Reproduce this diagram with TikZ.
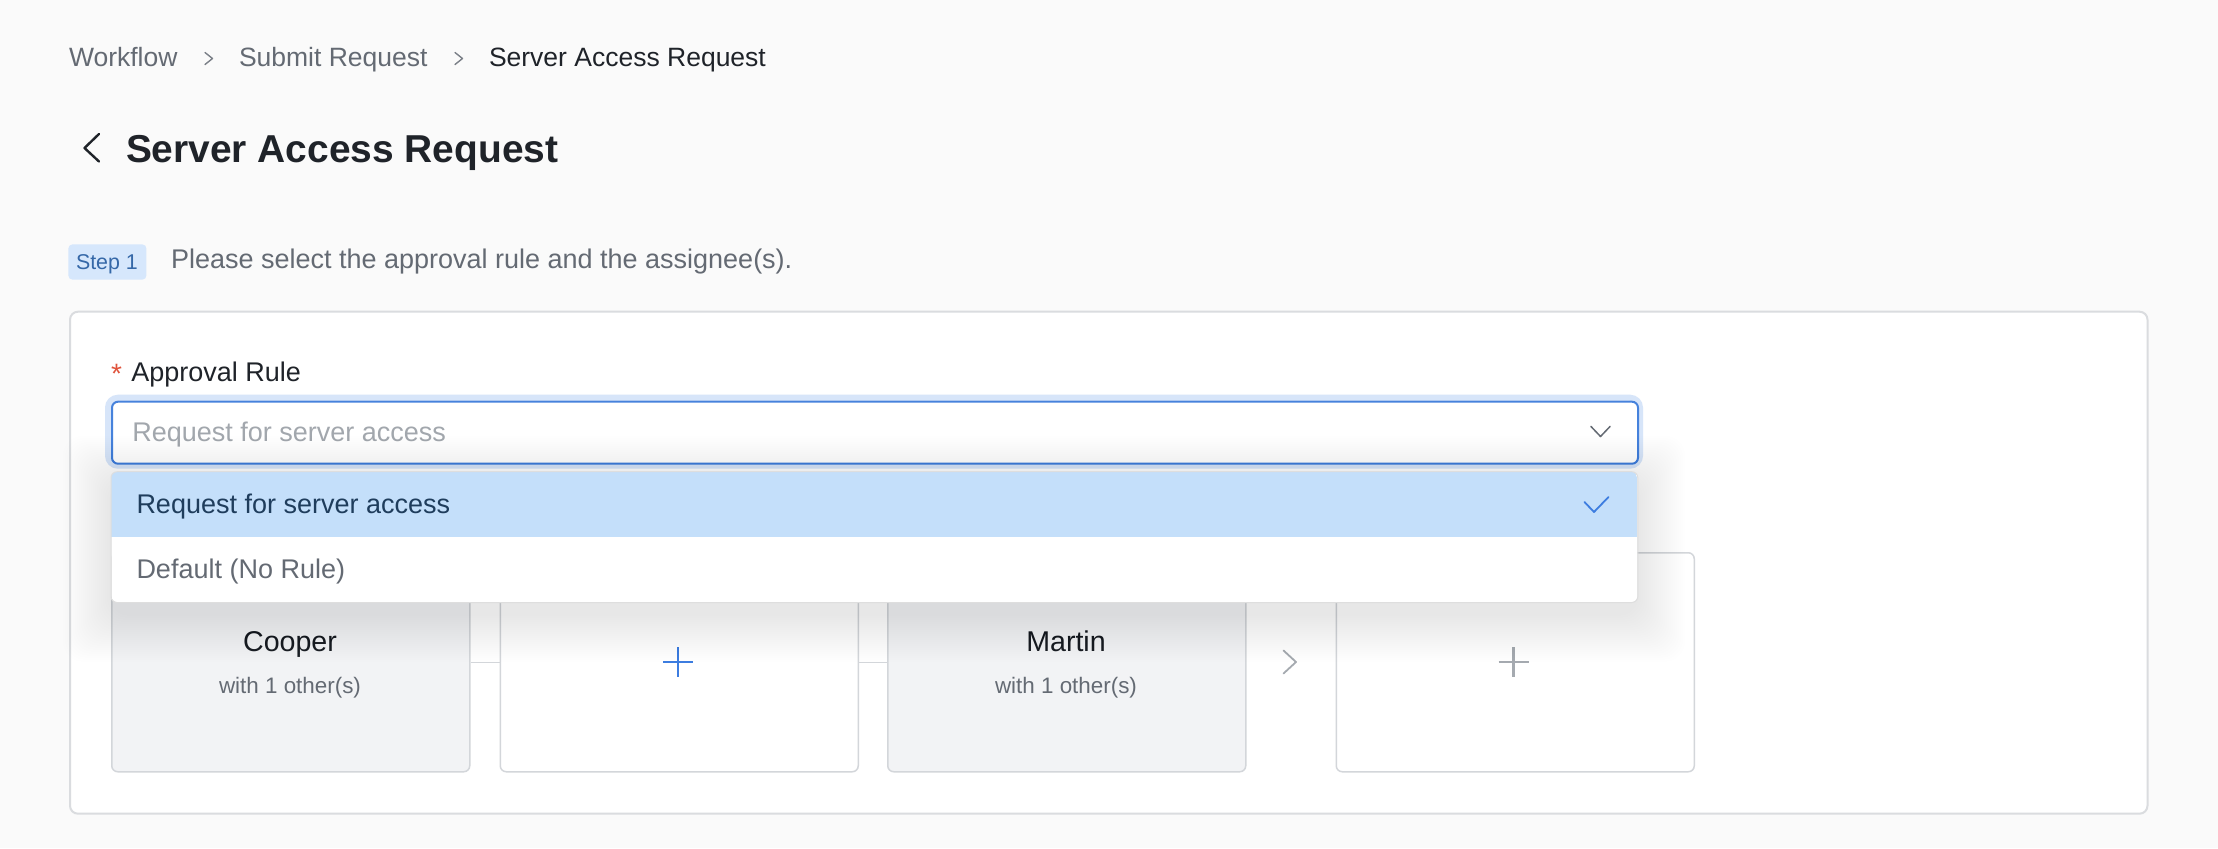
\documentclass[tikz,border=0pt]{standalone}
\usepackage{fontspec}
\setmainfont{Liberation Sans}
\definecolor{bgc}{HTML}{FAFAFA}
\definecolor{ink}{HTML}{1F2329}
\definecolor{gtext}{HTML}{646A73}
\definecolor{phc}{HTML}{A2A7AD}
\definecolor{bord}{HTML}{D3D6DA}
\definecolor{cardbord}{HTML}{DADCDF}
\definecolor{accent}{HTML}{3D7DE0}
\definecolor{selblue}{HTML}{4682DC}
\definecolor{hlc}{HTML}{C4DFFA}
\definecolor{badgec}{HTML}{D6E7FC}
\definecolor{badgetxt}{HTML}{3568A8}
\definecolor{glowc}{HTML}{D7E5F9}
\definecolor{boxfill}{HTML}{F2F3F5}
\definecolor{seltext}{HTML}{1F3D5C}
\definecolor{starc}{HTML}{E0533C}
\definecolor{iconc}{HTML}{A5AAB0}
\tikzset{
  txtw/.style={inner sep=0pt, outer sep=0pt, anchor=base west},
  txtc/.style={inner sep=0pt, outer sep=0pt, anchor=base},
  fbody/.style={font=\fontsize{13.5}{16}\selectfont},
  assbox/.style={draw=bord, line width=0.75pt, rounded corners=3pt, minimum width=179pt, minimum height=109.5pt, anchor=north west, inner sep=0pt},
  conn/.style={draw=bord, line width=0.75pt},
  icon/.style={line cap=round, line join=round},
}
\begin{document}
\begin{tikzpicture}[x=0.5pt,y=-0.5pt]
\useasboundingbox (0,0) rectangle (2218,848);
\fill[bgc] (0,0) rectangle (2218,848);

% breadcrumb
\node[txtw, font=\fontsize{13.25}{16}\selectfont, text=gtext] (bc1) at (69,66) {Workflow};
\draw[icon, gtext!85, line width=0.7pt] (205,52.5) -- (212.5,58.5) -- (205,64.5);
\node[txtw, font=\fontsize{13.25}{16}\selectfont, text=gtext] (bc2) at (239,66) {Submit Request};
\draw[icon, gtext!85, line width=0.7pt] (455,52.5) -- (462.5,58.5) -- (455,64.5);
\node[txtw, font=\fontsize{13.25}{16}\selectfont, text=ink] (bc3) at (489,66) {Server Access Request};

% title
\draw[icon, ink, line width=1.2pt] (99,134) -- (84.5,148) -- (99,161.5);
\node[txtw, font=\bfseries\fontsize{19.45}{23}\selectfont, text=ink] (title) at (126,162) {Server Access Request};

% step
\node[fill=badgec, rounded corners=2pt, minimum width=39pt, minimum height=17.6pt, anchor=north west, inner sep=0pt] (badge) at (68,244) {};
\node[txtw, font=\fontsize{10.7}{13}\selectfont, text=badgetxt] (steptxt) at (76,269) {Step 1};
\node[txtw, fbody, text=gtext] (instr) at (171,268) {Please select the approval rule and the assignee(s).};

% card
\node[draw=cardbord, line width=1pt, fill=white, rounded corners=4pt, anchor=north west, minimum width=1038.75pt, minimum height=251pt, inner sep=0pt] (card) at (69,310.7) {};

% approval rule
\node[txtw, font=\fontsize{14}{16}\selectfont, text=starc] (req) at (111,383) {*};
\node[txtw, fbody, text=ink] (label) at (131.4,381.7) {Approval Rule};

% assignee boxes
\node[assbox, fill=boxfill] (cooper) at (111,552) {};
\node[assbox, fill=white] (add1) at (499.5,552) {};
\node[assbox, fill=boxfill] (martin) at (887,552) {};
\node[assbox, fill=white] (add2) at (1335.5,552) {};
\draw[conn] (cooper.east) -- (add1.west);
\draw[conn] (add1.east) -- (martin.west);
\node[txtc, font=\fontsize{14.3}{17}\selectfont, text=ink] (n1) at (290,651.7) {Cooper};
\node[txtc, font=\fontsize{11.2}{13}\selectfont, text=gtext] (o1) at (290,693) {with 1 other(s)};
\node[txtc, font=\fontsize{14.3}{17}\selectfont, text=ink] (n2) at (1066,651.7) {Martin};
\node[txtc, font=\fontsize{11.2}{13}\selectfont, text=gtext] (o2) at (1066,693) {with 1 other(s)};
\draw[accent, line width=1.25pt] (678,647) -- (678,677) (663,662) -- (693,662);
\draw[iconc, line width=1.25pt] (1513.5,647) -- (1513.5,677) (1498.5,662) -- (1528.5,662);
\draw[icon, iconc, line width=0.9pt] (1283.5,650.5) -- (1296,662) -- (1283.5,673.5);

% select
\draw[glowc, line width=3pt, rounded corners=5pt] (108,397.7) rectangle (1640,465.7);
\node[draw=selblue, line width=1pt, fill=white, rounded corners=3pt, anchor=north west, minimum width=763pt, minimum height=31pt, inner sep=0pt] (select) at (111,400.7) {};
\node[txtw, fbody, text=phc] (ph) at (132.4,441.7) {Request for server access};
\draw[icon, gtext, line width=0.75pt] (1591,426.5) -- (1600.5,436.5) -- (1610,426.5);

% dropdown shadow
\foreach \i in {1,...,24} {
  \fill[black, opacity=0.0048, rounded corners=10pt] ({111-2*\i},{483.7-2*\i}) rectangle ({1637+2*\i},{613.7+2*\i});
}
% dropdown
\node[fill=white, rounded corners=3pt, anchor=north west, minimum width=763pt, minimum height=65pt, inner sep=0pt] (menu) at (111,471.7) {};
\begin{scope}
  \clip[rounded corners=3pt] (111,471.7) rectangle (1637,601.7);
  \fill[hlc] (111,471.7) rectangle (1637,536.7);
\end{scope}
\draw[black!13, line width=0.5pt, rounded corners=3pt] (menu.north west) rectangle (menu.south east);
\node[txtw, fbody, text=seltext] (opt1) at (136.5,513) {Request for server access};
\node[txtw, fbody, text=gtext] (opt2) at (136.5,578) {Default (No Rule)};
\draw[icon, accent, line width=0.9pt] (1584.5,502) -- (1594,512) -- (1608.5,497);
\end{tikzpicture}
\end{document}
